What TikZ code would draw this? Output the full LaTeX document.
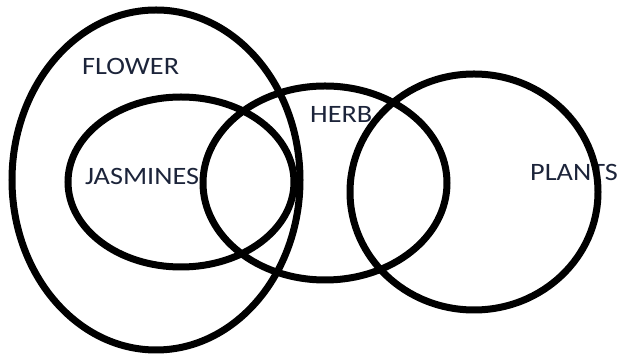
\documentclass[tikz,border=0pt]{standalone}
\usepackage{fontspec}
\setmainfont{Carlito}[FakeStretch=1.13]
\definecolor{LabelInk}{RGB}{28, 36, 58}

\begin{document}
\begin{tikzpicture}[
        x=1pt, y=1pt,
        set/.style={draw=black, line width=7pt},
        lbl/.style={text=LabelInk, font=\fontsize{25}{25}\selectfont, inner sep=0pt, anchor=base west}
    ]
        \useasboundingbox (0, 0) rectangle (619, 358);

        % labels first, the rings run over them
        \node[lbl] (flower) at (82, 283) {FLOWER};
        \node[lbl] (jasmines) at (85, 173) {JASMINES};
        \node[lbl] (herb) at (310, 235) {HERB};
        \node[lbl] (plants) at (530, 177) {PLANTS};

        \draw[set] (156, 178) ellipse [x radius=144, y radius=170];
        \draw[set] (181, 176) ellipse [x radius=113, y radius=85];
        \draw[set] (325, 175) ellipse [x radius=122, y radius=97];
        \draw[set] (474, 166) ellipse [x radius=124, y radius=118];
    \end{tikzpicture}
\end{document}
